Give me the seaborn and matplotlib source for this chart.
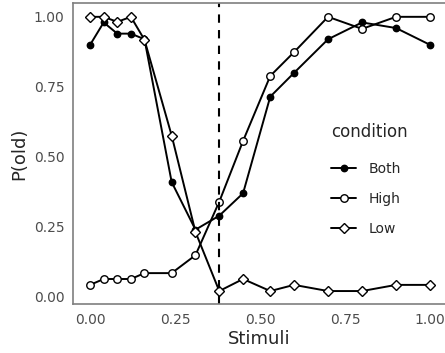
import matplotlib
matplotlib.use("Agg")
import matplotlib.pyplot as plt
import seaborn as sns
import pandas as pd
import numpy as np

stimuli = [0.0, 0.04, 0.08, 0.12, 0.16, 0.24, 0.31, 0.38, 0.45, 0.53, 0.60, 0.70, 0.80, 0.90, 1.00]
both = [0.90, 0.98, 0.94, 0.94, 0.92, 0.41, 0.24, 0.29, 0.37, 0.715, 0.80, 0.92, 0.98, 0.96, 0.90]
high = [0.043, 0.064, 0.064, 0.064, 0.085, 0.085, 0.149, 0.34, 0.557, 0.789, 0.874, 1.00, 0.957, 1.00, 1.00]
low = [1.00, 1.00, 0.982, 1.00, 0.918, 0.576, 0.232, 0.021, 0.064, 0.021, 0.043, 0.021, 0.021, 0.043, 0.043]
conditions = ["Both", "High", "Low"]
boundary = 0.38

df = pd.DataFrame({
    "Stimuli": stimuli * 3,
    "P(old)": both + high + low,
    "condition": np.repeat(conditions, len(stimuli)),
})

sns.set_style("white")
plt.rcParams['font.family'] = ['DejaVu Sans']

fig = plt.figure(figsize=(4.45, 3.53), dpi=100)
ax = fig.add_axes([0.165, 0.139, 0.835, 0.853])

styles = {
    "Both": dict(marker="o", markerfacecolor="black", markersize=4.6),
    "High": dict(marker="o", markerfacecolor="white", markersize=5.4),
    "Low": dict(marker="D", markerfacecolor="white", markersize=5.2),
}
for cond in conditions:
    sub = df[df["condition"] == cond]
    sns.lineplot(data=sub, x="Stimuli", y="P(old)", ax=ax, color="black",
                 linewidth=1.4, markeredgecolor="black", markeredgewidth=1.0,
                 label=cond, **styles[cond])

ax.axvline(boundary, color="black", linestyle=(0, (4, 3.5)), linewidth=1.5)

ax.set_xlim(-0.049, 1.044)
ax.set_ylim(-0.025, 1.05)
ax.set_xticks([0, 0.25, 0.5, 0.75, 1.0])
ax.set_xticklabels(["0.00", "0.25", "0.50", "0.75", "1.00"])
ax.set_yticks([0, 0.25, 0.5, 0.75, 1.0])
ax.set_yticklabels(["0.00", "0.25", "0.50", "0.75", "1.00"])
ax.tick_params(axis="both", length=3.5, width=1, color="#4d4d4d",
               labelcolor="#4d4d4d", labelsize=10, pad=3)
ax.set_xlabel("Stimuli", fontsize=13, labelpad=2)
ax.set_ylabel("P(old)", fontsize=13, labelpad=4)

for side in ["left", "bottom", "top"]:
    ax.spines[side].set_visible(True)
    ax.spines[side].set_color("#7f7f7f")
    ax.spines[side].set_linewidth(1.2)
ax.spines["right"].set_visible(False)

leg = ax.legend(title="condition", frameon=False, loc="upper left",
                bbox_to_anchor=(0.66, 0.643), fontsize=10, title_fontsize=12,
                handlelength=1.8, labelspacing=1.17, handletextpad=0.9)
leg._legend_box.align = "left"
leg._legend_box.sep = 15

fig.savefig("out.png", dpi=100)
